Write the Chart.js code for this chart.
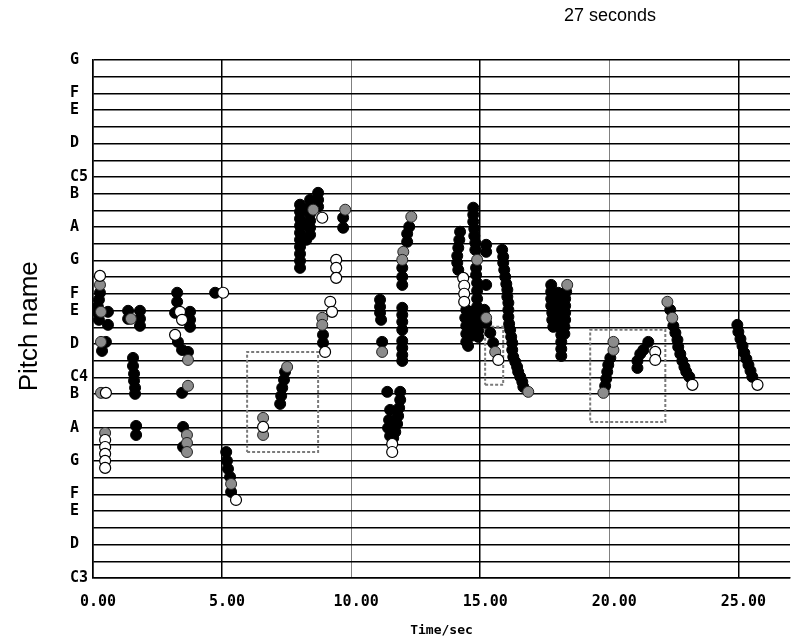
<!DOCTYPE html>
<html>
<head>
<meta charset="utf-8">
<script src="https://cdn.jsdelivr.net/npm/chart.js@4.4.1/dist/chart.umd.min.js"></script>
<style>
  html, body { margin: 0; padding: 0; background: #fff; }
  #wrap { width: 792px; height: 643px; }
</style>
</head>
<body>
<div id="wrap"><canvas id="pitch-chart" width="792" height="643"></canvas></div>
<script>
// pitch axis: semitones above C3, one grid line each, only naturals get a name
const pitchNames = ["C3","","D","","E","F","","G","","A","","B",
                    "C4","","D","","E","F","","G","","A","","B",
                    "C5","","D","","E","F","","G"];
const timeMax = 27;
const timeStep = 5;

// [time (s), semitones above C3]
const blackNotes = [
  [0.27,17.07],[0.23,16.65],[0.19,16.23],[0.19,15.87],[0.23,15.45],[0.58,15.93],[0.58,15.15],[0.50,14.13],[0.35,13.59],
  [1.36,15.99],[1.82,15.99],[1.36,15.51],[1.82,15.51],[1.82,15.09],[1.55,13.17],[1.55,12.69],[1.59,12.22],[1.59,11.80],
  [1.63,11.38],[1.63,11.02],[1.67,9.10],[1.67,8.56],
  [3.26,17.07],[3.26,16.53],[3.18,15.87],[3.76,15.93],[3.76,15.45],[3.76,15.03],[3.29,14.13],[3.45,13.65],[3.68,13.53],
  [3.45,11.08],[3.49,9.04],[3.49,7.84],
  [4.73,17.07],[5.16,7.54],[5.19,7.01],[5.23,6.53],[5.31,6.05],[5.35,5.15],
  [7.44,12.34],[7.40,11.86],[7.33,11.38],[7.29,10.90],[7.25,10.42],
  [8.02,22.34],[8.02,21.92],[8.02,21.50],[8.02,21.08],[8.02,20.66],[8.02,20.24],[8.02,19.82],[8.02,19.40],[8.02,18.98],
  [8.02,18.56],[8.18,22.04],[8.18,21.14],[8.26,20.24],[8.41,22.63],[8.41,22.22],[8.41,21.80],[8.41,21.38],[8.41,20.96],
  [8.41,20.54],[8.72,23.05],[8.72,22.63],[8.72,22.22],[9.69,21.56],[9.69,20.96],[8.91,14.55],[8.91,14.07],
  [11.12,16.65],[11.12,16.23],[11.12,15.87],[11.16,15.45],[11.20,14.13],[11.98,16.17],[11.98,15.75],[11.98,15.33],
  [11.98,14.85],[11.98,14.19],[11.98,13.77],[11.98,13.35],[11.98,12.99],[12.25,21.02],[12.17,20.60],[12.17,20.12],
  [11.98,18.56],[11.98,18.02],[11.98,17.54],[11.40,11.14],[11.90,11.14],[11.90,10.66],[11.86,10.18],[11.82,9.70],
  [11.78,9.22],[11.71,8.74],[11.63,8.38],[11.51,10.06],[11.47,9.46],[11.43,8.98],[11.51,8.50],
  [14.22,20.72],[14.19,20.24],[14.15,19.76],[14.11,19.28],[14.11,18.86],[14.15,18.44],[14.46,16.05],[14.61,15.93],
  [14.42,15.57],[14.61,15.45],[14.46,15.09],[14.65,14.97],[14.46,14.61],[14.65,14.49],[14.46,14.13],[14.53,13.89],
  [14.73,22.16],[14.73,21.74],[14.73,21.32],[14.77,20.90],[14.77,20.48],[14.81,20.06],[14.81,19.64],[14.84,18.56],
  [14.84,18.14],[14.88,17.66],[14.88,17.19],[14.88,16.71],[14.88,16.23],[14.88,15.75],[14.92,15.27],[14.92,14.79],
  [14.92,14.43],[15.23,19.94],[15.23,19.52],[15.23,17.54],[15.16,16.05],[15.23,15.27],[15.39,14.67],[15.50,14.07],
  [15.85,19.64],[15.89,19.22],[15.89,18.86],[15.93,18.44],[15.97,18.02],[16.01,17.60],[16.05,17.25],[16.05,16.83],
  [16.09,16.47],[16.09,16.05],[16.09,15.63],[16.12,15.21],[16.16,14.85],[16.20,14.43],[16.24,14.07],[16.24,13.65],
  [16.28,13.23],[16.36,12.93],[16.43,12.63],[16.47,12.34],[16.55,12.04],[16.63,11.74],[16.67,11.44],
  [17.75,17.54],[17.75,17.13],[17.75,16.71],[17.75,16.29],[17.79,15.87],[17.79,15.45],[17.83,15.03],[18.02,17.07],
  [18.02,16.65],[18.06,16.23],[18.06,15.81],[18.10,15.39],[18.10,14.97],[18.14,14.55],[18.14,14.13],[18.14,13.71],
  [18.14,13.29],[18.33,17.13],[18.29,16.71],[18.29,16.29],[18.29,15.87],[18.29,15.45],[18.26,15.03],[18.26,14.61],
  [19.84,11.50],[19.88,11.92],[19.92,12.34],[19.96,12.75],[20.04,13.17],[21.09,12.57],[21.09,12.99],[21.20,13.41],
  [21.32,13.65],[21.51,14.13],[22.36,16.05],[22.48,15.09],[22.56,14.67],[22.64,14.25],[22.67,13.83],[22.75,13.41],
  [22.83,12.99],[22.91,12.63],[22.98,12.34],[23.10,12.04],
  [24.96,15.15],[25.00,14.73],[25.08,14.31],[25.16,13.89],[25.23,13.47],[25.31,13.11],[25.39,12.75],[25.47,12.40],[25.54,12.04]
];
const grayNotes = [
  [0.27,17.54],[0.31,15.93],[0.31,14.13],[0.31,11.08],[0.47,8.68],[1.47,15.51],[3.68,13.05],[3.68,11.50],[3.64,8.56],
  [3.64,8.08],[3.64,7.54],[5.35,5.63],[7.52,12.63],[6.59,9.58],[6.59,8.56],[8.53,22.04],[9.77,22.04],[8.88,15.57],
  [8.88,15.15],[11.20,13.53],[12.33,21.62],[12.02,19.52],[11.98,19.04],[14.88,19.04],[15.23,15.57],[15.58,13.53],
  [16.86,11.14],[18.37,17.54],[19.77,11.08],[20.16,13.65],[20.16,14.13],[22.25,16.53],[22.44,15.57]
];
const whiteNotes = [
  [0.27,18.08],[0.50,11.08],[0.47,8.26],[0.47,7.84],[0.47,7.43],[0.47,7.01],[0.47,6.59],[3.37,15.93],[3.45,15.45],
  [3.18,14.55],[5.04,17.07],[5.54,4.67],[6.59,9.04],[8.88,21.56],[9.42,19.04],[9.42,18.56],[9.42,17.96],[9.19,16.53],
  [9.26,15.93],[8.99,13.53],[11.59,8.02],[11.59,7.54],[14.34,17.96],[14.38,17.49],[14.38,17.01],[14.38,16.53],
  [15.70,13.05],[21.78,13.53],[21.78,13.05],[23.22,11.56],[25.74,11.56]
];

// highlighted regions
const boxStart = [5.97, 15.19, 19.26];
const boxEnd = [8.72, 15.89, 22.17];
const boxLow = [7.54, 11.56, 9.34];
const boxHigh = [13.53, 15.03, 14.85];

const MONO = "'DejaVu Sans Mono', 'Liberation Mono', monospace";
const SANS = "'Liberation Sans', Arial, sans-serif";

function toPoints(list) {
  return list.map(p => ({ x: p[0], y: p[1] }));
}

const boxSets = boxStart.map((t0, i) => ({
  type: "line",
  data: [
    { x: t0, y: boxLow[i] }, { x: boxEnd[i], y: boxLow[i] },
    { x: boxEnd[i], y: boxHigh[i] }, { x: t0, y: boxHigh[i] }, { x: t0, y: boxLow[i] }
  ],
  showLine: true,
  borderColor: "#7a7a7a",
  borderWidth: 2,
  borderDash: [3, 2],
  pointRadius: 0,
  fill: false,
  tension: 0
}));

const topTitle = {
  id: "topTitle",
  afterDraw(chart) {
    const ctx = chart.ctx;
    ctx.save();
    ctx.font = "18px " + SANS;
    ctx.fillStyle = "#000";
    ctx.textAlign = "center";
    ctx.textBaseline = "middle";
    ctx.fillText("27 seconds", 610, 16);
    ctx.restore();
  }
};

const ctx = document.getElementById("pitch-chart").getContext("2d");
new Chart(ctx, {
  type: "scatter",
  data: {
    datasets: [
      {
        data: toPoints(whiteNotes),
        backgroundColor: "#fff",
        borderColor: "#000",
        borderWidth: 1.2,
        pointRadius: 5.5
      },
      {
        data: toPoints(grayNotes),
        backgroundColor: "#8c8c8c",
        borderColor: "#222",
        borderWidth: 1,
        pointRadius: 5.5
      },
      {
        data: toPoints(blackNotes),
        backgroundColor: "#000",
        borderColor: "#000",
        borderWidth: 1,
        pointRadius: 5.5
      },
      ...boxSets
    ]
  },
  plugins: [topTitle],
  options: {
    responsive: false,
    maintainAspectRatio: false,
    animation: false,
    layout: { autoPadding: false, padding: { top: 60, right: 2, bottom: 0, left: 0 } },
    plugins: {
      legend: { display: false },
      tooltip: { enabled: false }
    },
    scales: {
      x: {
        type: "linear",
        min: 0,
        max: timeMax,
        afterFit(scale) { scale.height = 65; },
        ticks: {
          stepSize: timeStep,
          includeBounds: false,
          padding: 15,
          labelOffset: 5,
          color: "#000",
          font: { family: MONO, size: 15, weight: "bold" },
          callback: v => v.toFixed(2)
        },
        grid: {
          drawTicks: false,
          color: c => (c.tick && c.tick.value % 10 === 0 && c.tick.value !== 0) ? "#808080" : "#000",
          lineWidth: c => (c.tick && c.tick.value % 10 === 0 && c.tick.value !== 0) ? 1 : 1.5
        },
        border: { color: "#000", width: 1.5 },
        title: {
          display: true,
          text: "Time/sec",
          color: "#000",
          font: { family: MONO, size: 13, weight: "bold" },
          padding: { top: 0, bottom: 5 }
        }
      },
      y: {
        type: "linear",
        min: 0,
        max: pitchNames.length - 1,
        afterFit(scale) { scale.width = 93; },
        ticks: {
          stepSize: 1,
          autoSkip: false,
          padding: 5,
          color: "#000",
          font: { family: MONO, size: 15, weight: "bold" },
          callback: v => pitchNames[v] ? pitchNames[v].padEnd(2, " ") : ""
        },
        grid: { drawTicks: false, color: "#000", lineWidth: 1.5 },
        border: { color: "#000", width: 1.5 },
        title: {
          display: true,
          text: "Pitch name  ",
          color: "#000",
          font: { family: SANS, size: 26, weight: "normal" },
          padding: { top: 14, bottom: 0 }
        }
      }
    }
  }
});
</script>
</body>
</html>
